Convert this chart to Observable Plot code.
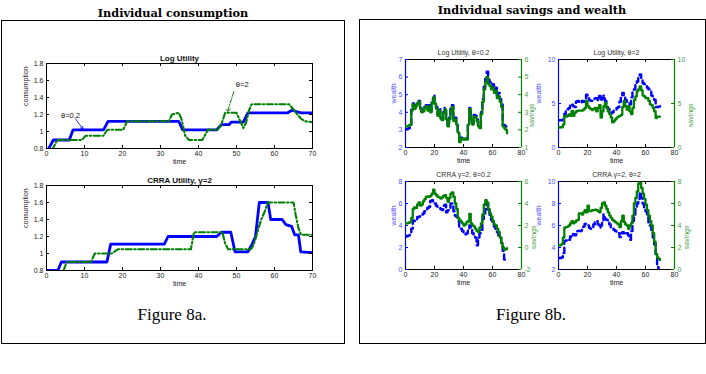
<!DOCTYPE html>
<html><head><meta charset="utf-8">
<script src="https://cdn.jsdelivr.net/npm/d3@7"></script>
<script src="https://cdn.jsdelivr.net/npm/@observablehq/plot@0.6"></script>
<style>
body{margin:0;background:#fff}
#fig{position:relative;width:706px;height:374px;overflow:hidden;background:#fff;font-family:"Liberation Sans",Arial,sans-serif}
.box{position:absolute;border:1.5px solid #000;box-sizing:border-box}
.big{position:absolute;transform:translate(-50%,-50%);white-space:nowrap;font-family:"DejaVu Serif",serif;font-weight:bold;font-size:11.3px;color:#000}
.cap{position:absolute;transform:translate(-50%,-50%);white-space:nowrap;font-family:"Liberation Serif","DejaVu Serif",serif;font-size:17px;color:#000}
</style></head>
<body><div id="fig"></div>
<script>
// ---------- Figure 8a: consumption ----------
const consXDomain = [0, 70];
const consXTicks = [0, 10, 20, 30, 40, 50, 60, 70];
const consYDomain = [0.8, 1.8];
const consYTicks = [0.8, 1, 1.2, 1.4, 1.6, 1.8];

const logBlueT = [0.6, 1.8, 6, 7, 15, 16.2, 34.8, 35.8, 44.8, 46, 48, 48.6, 51.8, 53, 63.5, 64.6, 66, 67, 70];
const logBlueC = [0.8, 0.9, 0.9, 1.02, 1.02, 1.12, 1.12, 1.02, 1.02, 1.08, 1.08, 1.11, 1.11, 1.22, 1.22, 1.25, 1.23, 1.22, 1.22];
const logGreenT = [1.5, 2.8, 9.3, 10.3, 15, 16, 20.2, 21.2, 32.2, 33, 34.8, 35.5, 36.5, 37.5, 41, 42.5, 45, 46, 46.5, 47, 50, 51, 51.8, 52.5, 53.3, 54, 63.8, 65, 66, 67, 68, 70];
const logGreenC = [0.78, 0.9, 0.9, 0.95, 0.95, 1.02, 1.02, 1.12, 1.12, 1.2, 1.22, 1.15, 0.95, 0.9, 0.9, 1.02, 1.02, 1.08, 1.15, 1.22, 1.22, 1.12, 1.04, 1.1, 1.25, 1.32, 1.32, 1.26, 1.2, 1.15, 1.12, 1.11];

const crraBlueT = [0, 3, 3.9, 15.9, 16.9, 31, 32, 44.8, 46, 48.5, 49.6, 53, 54, 55, 55.5, 56, 58.3, 59, 62, 63, 64.5, 65.3, 66.3, 66.9, 70];
const crraBlueC = [0.8, 0.8, 0.9, 0.9, 1.11, 1.11, 1.2, 1.2, 1.25, 1.25, 1.02, 1.02, 1.1, 1.2, 1.4, 1.6, 1.6, 1.4, 1.4, 1.34, 1.32, 1.22, 1.22, 1.02, 1.01];
const crraGreenT = [4.5, 5.3, 11.7, 12.7, 17.2, 18.8, 38, 38.8, 46.3, 47, 47.8, 53.8, 54.5, 55.5, 56.5, 57.5, 58.2, 65, 65.6, 66.3, 67, 70];
const crraGreenC = [0.8, 0.9, 0.9, 1.0, 1.0, 1.05, 1.05, 1.25, 1.25, 1.12, 1.05, 1.05, 1.1, 1.25, 1.4, 1.5, 1.6, 1.6, 1.45, 1.3, 1.22, 1.22];

const noteLabels = ["θ=0.2", "θ=2"];
const noteT = [6.3, 51.5];
const noteC = [1.19, 1.55];
const noteFromT = [7.6, 49.3];
const noteFromC = [1.15, 1.47];
const noteToT = [9.6, 47.6];
const noteToC = [1.03, 1.23];

// ---------- Figure 8b: savings and wealth ----------
const rightXDomain = [0, 80];
const rightXTicks = [0, 20, 40, 60, 80];
const time = d3.range(0, 71);

const p1WealthDomain = [2, 7], p1WealthTicks = [2, 3, 4, 5, 6, 7];
const p1SavingsDomain = [1, 6], p1SavingsTicks = [1, 2, 3, 4, 5, 6];
const p1Wealth = [3.05,3.05,3.1,3.15,4.15,4.5,4.25,4.4,4.6,4.65,4.3,4.05,4.1,4.3,4.4,4.2,4.4,4.1,4.55,4.95,4.6,4.3,3.9,4.2,3.75,3.6,4.0,4.25,3.7,3.25,3.7,4.2,4.4,3.6,3.7,3.4,2.9,2.35,2.55,2.5,2.55,2.5,2.5,3.35,4.25,3.7,3.4,3.85,3.8,3.6,3.3,3.2,4.0,4.75,5.45,5.9,6.3,5.85,5.7,5.5,5.6,5.3,5.4,5.0,5.1,4.75,4.45,3.3,3.25,3.2,3.1];
const p1Savings = [2.2,2.2,2.25,2.3,3.1,3.45,3.2,3.35,3.5,3.6,3.2,3.0,3.05,3.25,3.35,3.1,3.3,3.0,3.5,3.85,3.5,3.2,2.8,3.1,2.65,2.55,2.95,3.15,2.6,2.2,2.6,3.1,3.3,2.5,2.6,2.3,1.85,1.3,1.5,1.45,1.5,1.45,1.45,2.3,3.2,2.6,2.3,2.75,2.7,2.5,2.2,2.1,2.9,3.6,4.3,4.7,5.0,4.6,4.5,4.3,4.4,4.1,4.2,3.8,3.9,3.6,3.3,2.2,2.1,2.0,1.8];

const p2WealthDomain = [0, 10], p2WealthTicks = [0, 5, 10];
const p2SavingsDomain = [0, 10], p2SavingsTicks = [0, 5, 10];
const p2Wealth = [3.1,3.1,3.1,3.2,3.8,4.35,4.35,4.5,4.9,4.85,4.7,4.6,5.2,5.3,5.2,5.1,5.3,5.2,5.3,6.0,5.7,5.4,5.3,5.3,5.5,5.6,5.6,5.4,5.85,5.3,5.6,5.9,5.3,4.6,4.4,4.3,3.9,4.0,4.2,4.3,4.5,4.6,5.2,5.8,6.2,5.7,5.4,5.2,5.1,4.9,5.7,6.3,6.6,7.2,7.5,7.9,8.3,7.9,7.3,7.2,7.2,6.8,6.6,6.4,5.9,5.7,5.4,4.6,4.6,4.65,4.7];
const p2Savings = [2.25,2.3,2.3,2.6,3.55,3.5,3.6,3.75,3.6,4.15,3.6,3.95,4.1,4.2,4.2,4.2,4.2,4.3,4.5,5.3,4.7,4.5,4.35,4.25,4.4,4.5,4.1,4.5,4.8,3.4,4.1,4.7,5.1,4.5,4.1,3.8,3.4,2.85,3.0,3.2,3.4,3.5,3.6,3.7,4.6,5.3,4.7,4.3,4.7,4.1,3.8,4.5,5.4,5.8,6.4,6.6,6.95,6.5,5.9,5.8,5.6,5.6,5.3,4.9,4.8,4.5,4.1,3.35,3.5,3.5,3.5];

const p3WealthDomain = [0, 8], p3WealthTicks = [0, 2, 4, 6, 8];
const p3SavingsDomain = [-2, 6], p3SavingsTicks = [-2, 0, 2, 4, 6];
const p3Wealth = [3.0,3.05,3.1,3.2,3.7,4.45,4.4,4.5,4.75,4.8,4.95,5.0,5.1,5.3,5.4,5.6,5.7,6.2,6.3,6.2,6.0,5.8,5.7,5.6,5.5,5.4,5.8,5.9,5.2,5.4,5.6,6.0,6.0,5.3,4.9,4.8,4.4,3.8,3.7,3.5,3.3,3.2,3.3,3.6,4.0,3.7,3.3,3.1,2.9,2.2,2.9,3.3,3.6,4.6,5.1,5.5,6.0,5.4,4.9,4.5,4.1,3.9,3.7,3.4,3.1,2.9,2.4,1.7,0.9,0.9,1.0];
const p3Savings = [2.2,2.2,2.25,2.3,2.7,3.5,3.65,3.6,3.9,4.1,3.8,3.9,4.2,4.4,4.6,4.65,4.6,4.7,4.9,5.25,4.9,4.75,4.6,4.55,4.45,4.55,4.7,4.75,4.5,4.15,4.5,4.9,5.0,4.6,4.0,3.5,2.7,2.5,2.35,2.2,2.0,2.1,2.3,2.4,3.05,2.2,2.0,1.9,1.7,1.5,1.4,1.8,2.2,3.0,3.9,4.3,4.1,3.5,3.1,2.8,2.4,2.1,2.0,1.7,1.4,0.9,0.4,0.0,-0.2,-0.15,-0.05];

const p4WealthDomain = [2, 10], p4WealthTicks = [2, 4, 6, 8, 10];
const p4SavingsDomain = [0, 8], p4SavingsTicks = [0, 2, 4, 6, 8];
const p4Wealth = [3.05,3.05,3.1,3.5,4.6,4.65,4.6,4.7,5.0,5.25,5.2,5.1,5.2,5.5,5.5,5.5,5.6,5.9,6.15,6.1,6.0,5.8,5.7,5.7,6.1,6.3,6.4,6.1,5.8,6.0,6.4,7.0,6.6,6.5,6.4,6.1,5.8,5.7,5.6,5.5,5.4,5.3,4.95,5.3,5.4,5.3,5.4,5.3,5.1,4.7,5.5,6.4,7.0,7.5,8.0,8.4,9.0,8.5,8.0,7.6,7.3,6.8,6.3,6.0,5.6,4.9,4.3,3.4,2.2,1.9];
const p4Savings = [2.2,2.2,2.3,2.9,3.8,3.85,3.9,4.0,4.2,4.4,4.2,4.3,4.45,4.5,5.1,5.1,5.0,5.2,5.4,5.2,5.8,5.3,5.3,5.4,5.4,5.45,5.4,5.3,5.2,5.6,6.0,6.1,5.8,5.5,5.2,4.9,4.7,4.5,4.4,4.3,4.2,4.1,3.85,4.4,4.9,4.3,4.1,4.0,3.7,4.0,4.2,4.9,6.0,6.5,7.1,7.8,7.9,7.4,6.9,6.4,5.9,5.4,4.9,4.4,4.0,3.3,2.5,1.4,1.1,0.95,0.85];

// ---------- drawing ----------
const FONT = "'Liberation Sans', Arial, Helvetica, sans-serif";
const BLUE = "#0000ff", GREEN = "#008000";
const BLUE_TXT = "#4d4dff", GREEN_TXT = "#4aa04a";
const fig = document.getElementById("fig");
function put(node, x, y) { node.style.position = "absolute"; node.style.left = x + "px"; node.style.top = y + "px"; fig.appendChild(node); }
function div(cls, text, x, y) { const d = document.createElement("div"); d.className = cls; d.textContent = text; d.style.left = x + "px"; d.style.top = y + "px"; fig.appendChild(d); return d; }
function box(x, y, w, h) { const d = document.createElement("div"); d.className = "box"; Object.assign(d.style, {left: x + "px", top: y + "px", width: w + "px", height: h + "px"}); fig.appendChild(d); }

box(1, 20, 344, 324);
box(359, 19, 347, 325);
div("big", "Individual consumption", 173, 13);
div("big", "Individual savings and wealth", 532, 10);
div("cap", "Figure 8a.", 172, 315);
div("cap", "Figure 8b.", 531, 315);

function consPlot(cfg) {
  const W = 330, H = 125, ML = 46, MR = 18, MT = 18, MB = 22;
  const FW = W - ML - MR, FH = H - MT - MB;
  const blue = cfg.bT.map((t, i) => ({t, c: cfg.bC[i]}));
  const green = cfg.gT.map((t, i) => ({t, c: cfg.gC[i]}));
  const marks = [
    Plot.line(blue, {x: "t", y: "c", stroke: BLUE, strokeWidth: 2.8, clip: true}),
    Plot.line(green, {x: "t", y: "c", stroke: GREEN, strokeWidth: 2.1, strokeDasharray: "6,2.5,1.5,2.5", clip: true}),
    Plot.frame({stroke: "#000", strokeWidth: 1}),
    Plot.tickX(consXTicks, {x: d => d, insetTop: FH - 3}),
    Plot.tickX(consXTicks, {x: d => d, insetBottom: FH - 3}),
    Plot.tickY(consYTicks, {y: d => d, insetRight: FW - 3}),
    Plot.tickY(consYTicks, {y: d => d, insetLeft: FW - 3}),
    Plot.axisX(consXTicks, {anchor: "bottom", tickSize: 0, tickPadding: 3, tickFormat: d => String(d), fill: "#222", label: null}),
    Plot.axisY(consYTicks, {anchor: "left", tickSize: 0, tickPadding: 3, tickFormat: d => String(d), fill: "#222", label: null}),
    Plot.text([cfg.title], {frameAnchor: "top", dy: -8.5, fontWeight: "bold", fontSize: 8, fill: "#111"}),
    Plot.text(["time"], {frameAnchor: "bottom", dy: 15.5, fill: "#222"}),
    Plot.text(["consumption"], {frameAnchor: "left", rotate: -90, dx: -21, fill: "#222"})
  ];
  if (cfg.notes) {
    const notes = noteLabels.map((s, i) => ({s, t: noteT[i], c: noteC[i], t1: noteFromT[i], c1: noteFromC[i], t2: noteToT[i], c2: noteToC[i]}));
    marks.push(
      Plot.arrow([notes[0]], {x1: "t1", y1: "c1", x2: "t2", y2: "c2", stroke: BLUE, strokeWidth: 0.8, headLength: 5}),
      Plot.arrow([notes[1]], {x1: "t1", y1: "c1", x2: "t2", y2: "c2", stroke: GREEN, strokeWidth: 1, strokeDasharray: "4,1.5,1,1.5", headLength: 6}),
      Plot.text(notes, {x: "t", y: "c", text: "s", fontSize: 7.5, fill: "#111"})
    );
  }
  return Plot.plot({
    width: W, height: H, marginLeft: ML, marginRight: MR, marginTop: MT, marginBottom: MB,
    x: {domain: consXDomain, label: null}, y: {domain: consYDomain, label: null},
    style: {fontFamily: FONT, fontSize: "7px", background: "transparent", overflow: "visible"},
    marks
  });
}

put(consPlot({title: "Log Utility", bT: logBlueT, bC: logBlueC, gT: logGreenT, gC: logGreenC, notes: true}), 0, 45);
put(consPlot({title: "CRRA Utility, γ=2", bT: crraBlueT, bC: crraBlueC, gT: crraGreenT, gC: crraGreenC, notes: false}), 0, 167);

function dual(cfg) {
  const FW = 116, FH = 88, M = 34, MT = 18, MB = 24;
  const W = FW + 2 * M, H = FH + MT + MB;
  const wData = cfg.w.map((v, i) => ({t: time[i], v}));
  const sData = cfg.s.map((v, i) => ({t: time[i], v}));
  const base = {width: W, height: H, marginLeft: M, marginRight: M, marginTop: MT, marginBottom: MB,
    style: {fontFamily: FONT, fontSize: "7px", background: "transparent", overflow: "visible"}};
  const svgW = Plot.plot({...base, x: {domain: rightXDomain, label: null}, y: {domain: cfg.wDom, label: null},
    marks: [
      Plot.line(wData, {x: "t", y: "v", stroke: BLUE, strokeWidth: 2.4, strokeDasharray: "6,4", curve: "step-after", clip: true}),
      Plot.ruleY(cfg.wDom, {stroke: "#000"}),
      Plot.ruleX([rightXDomain[0]], {stroke: BLUE, strokeWidth: 1.2}),
      Plot.tickX(rightXTicks, {x: d => d, insetTop: FH - 3}),
      Plot.tickX(rightXTicks, {x: d => d, insetBottom: FH - 3}),
      Plot.tickY(cfg.wTicks, {y: d => d, insetRight: FW - 3, stroke: BLUE}),
      Plot.axisX(rightXTicks, {anchor: "bottom", tickSize: 0, tickPadding: 3, tickFormat: d => String(d), fill: "#222", label: null}),
      Plot.axisY(cfg.wTicks, {anchor: "left", tickSize: 0, tickPadding: 3, tickFormat: d => String(d), fill: BLUE_TXT, label: null}),
      Plot.text([cfg.title], {frameAnchor: "top", dy: -9, fill: "#333"}),
      Plot.text(["time"], {frameAnchor: "bottom", dy: 15.5, fill: "#222"}),
      Plot.text(["wealth"], {frameAnchor: "left", rotate: -90, dx: cfg.wLab, fill: BLUE_TXT})
    ]});
  const svgS = Plot.plot({...base, x: {domain: rightXDomain, axis: null, label: null}, y: {domain: cfg.sDom, label: null},
    marks: [
      Plot.line(sData, {x: "t", y: "v", stroke: GREEN, strokeWidth: 2.3, curve: "step-after", clip: true}),
      Plot.ruleX([rightXDomain[1]], {stroke: GREEN, strokeWidth: 1.2}),
      Plot.tickY(cfg.sTicks, {y: d => d, insetLeft: FW - 3, stroke: GREEN}),
      Plot.axisY(cfg.sTicks, {anchor: "right", tickSize: 0, tickPadding: 3, tickFormat: d => String(d), fill: GREEN_TXT, label: null}),
      Plot.text(["savings"], {frameAnchor: "right", rotate: -90, dx: cfg.sLab, fill: GREEN_TXT})
    ]});
  put(svgW, cfg.fx - M, cfg.fy - MT);
  put(svgS, cfg.fx - M, cfg.fy - MT);
}

dual({title: "Log Utility, θ=0.2", fx: 404.5, fy: 58.5, w: p1Wealth, s: p1Savings, wDom: p1WealthDomain, wTicks: p1WealthTicks, sDom: p1SavingsDomain, sTicks: p1SavingsTicks, wLab: -12, sLab: 10});
dual({title: "Log Utility, θ=2", fx: 557.5, fy: 58.5, w: p2Wealth, s: p2Savings, wDom: p2WealthDomain, wTicks: p2WealthTicks, sDom: p2SavingsDomain, sTicks: p2SavingsTicks, wLab: -20, sLab: 16});
dual({title: "CRRA γ=2, θ=0.2", fx: 404.5, fy: 181, w: p3Wealth, s: p3Savings, wDom: p3WealthDomain, wTicks: p3WealthTicks, sDom: p3SavingsDomain, sTicks: p3SavingsTicks, wLab: -12, sLab: 12});
dual({title: "CRRA γ=2, θ=2", fx: 557.5, fy: 181, w: p4Wealth, s: p4Savings, wDom: p4WealthDomain, wTicks: p4WealthTicks, sDom: p4SavingsDomain, sTicks: p4SavingsTicks, wLab: -20, sLab: 12});
</script>
</body></html>
